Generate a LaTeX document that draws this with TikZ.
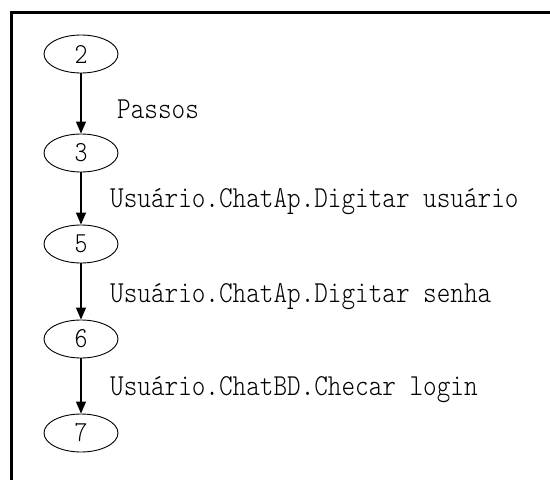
\documentclass[tikz,border=0pt]{standalone}
\usepackage{fontspec}
\newfontfamily\chatfont[Extension=.otf,FakeStretch=0.85]{lmmonolt10-regular}
\usetikzlibrary{shapes.geometric,arrows.meta}

\tikzset{
  state/.style={draw, ellipse, line width=0.9pt, minimum width=74pt, minimum height=38pt, inner sep=0pt,
    font=\chatfont\fontsize{29}{32}\selectfont},
  lbl/.style={anchor=base west, inner sep=0pt, font=\chatfont\fontsize{30.5}{32}\selectfont},
  flow/.style={line width=1.4pt, -{Triangle[width=10pt,length=12pt]}}
}

\begin{document}
\begin{tikzpicture}[x=1pt,y=-1pt]
            \useasboundingbox (0,0) rectangle (550,480);
            \draw[line width=3pt] (11,480) -- (11,12) -- (550,12);

            \node[state] (n2) at (81,54) {2};
            \node[state] (n3) at (81,153) {3};
            \node[state] (n5) at (81,244) {5};
            \node[state] (n6) at (81,339) {6};
            \node[state] (n7) at (81,433) {7};

            \draw[flow] (n2) -- (n3);
            \draw[flow] (n3) -- (n5);
            \draw[flow] (n5) -- (n6);
            \draw[flow] (n6) -- (n7);

            \node[lbl] (passos) at (117,118) {Passos};
            \node[lbl] (usuario) at (110,207) {Usuário.ChatAp.Digitar usuário};
            \node[lbl] (senha) at (110,302) {Usuário.ChatAp.Digitar senha};
            \node[lbl] (login) at (110,395) {Usuário.ChatBD.Checar login};
\end{tikzpicture}
\end{document}
